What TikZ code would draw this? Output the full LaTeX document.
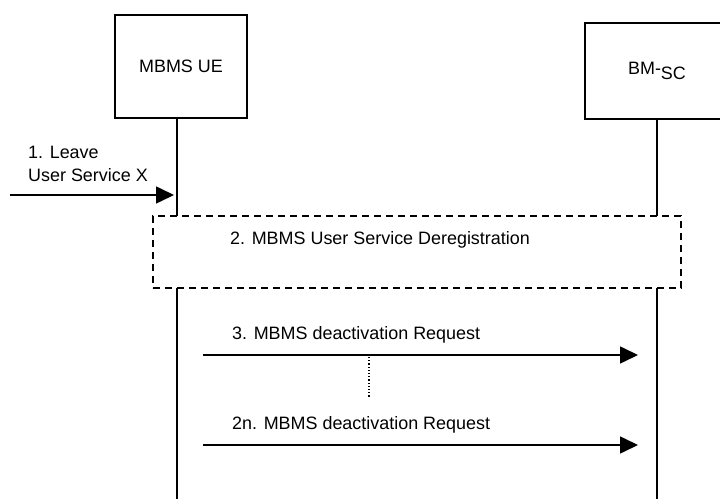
\documentclass[tikz,border=0pt]{standalone}
\usepackage{fontspec}
\setmainfont{Liberation Sans}
\usetikzlibrary{positioning}
\usetikzlibrary{arrows.meta}

\begin{document}
\begin{tikzpicture}[x=1bp, y=-1bp,
    every node/.style={font=\fontsize{18}{22}\selectfont},
    entity/.style={draw, line width=1.3bp, inner sep=0pt},
    lifeline/.style={line width=1.6bp},
    phase/.style={draw, dashed, dash pattern=on 7bp off 5bp, line width=1.3bp, fill=white, inner sep=0pt, minimum width=528bp, minimum height=72bp},
    msg/.style={line width=1.6bp, -{Triangle[length=18bp, width=17bp]}},
    lbl/.style={anchor=west, inner sep=0pt}
]
    \useasboundingbox (0,0) rectangle (720,499);

    % Draw the two entities
    \node[entity, minimum width=132bp, minimum height=103bp] (ue) at (181,66.5) {MBMS UE};
    \node[entity, minimum width=144bp, minimum height=96bp] (bmsc) at (657,71) {BM-\raisebox{-0.45ex}{SC}};

    % Lifelines
    \coordinate (ue-top) at (177,118);
    \coordinate (ue-end) at (177,499);
    \coordinate (bmsc-top) at (657,119);
    \coordinate (bmsc-end) at (657,499);
    \draw[lifeline] (ue-top) -- (ue-end);
    \draw[lifeline] (bmsc-top) -- (bmsc-end);

    % Step 1
    \coordinate (leave-start) at (10,195);
    \coordinate (leave-end) at (174,195);
    \draw[msg] (leave-start) -- (leave-end);
    \node[lbl] (leave) at (28,152) {1. Leave};
    \node[lbl] (leave2) at (28,175) {User Service X};

    % Step 2 (dashed box over both lifelines)
    \node[phase] (dereg) at (417,252) {};
    \node[lbl] (dereg-text) at (230,240) {2. MBMS User Service Deregistration};

    % Step 3 ... 2n
    \coordinate (req-start) at (203,355);
    \coordinate (req-end) at (638,355);
    \draw[msg] (req-start) -- (req-end);
    \node[lbl] (req) at (232,335) {3. MBMS deactivation Request};

    \coordinate (gap-top) at (369,357);
    \coordinate (gap-end) at (369,397);
    \draw[dotted, line width=1.2bp] (gap-top) -- (gap-end);

    \coordinate (reqn-start) at (203,445);
    \coordinate (reqn-end) at (638,445);
    \draw[msg] (reqn-start) -- (reqn-end);
    \node[lbl] (reqn) at (232,425) {2n. MBMS deactivation Request};

\end{tikzpicture}
\end{document}
